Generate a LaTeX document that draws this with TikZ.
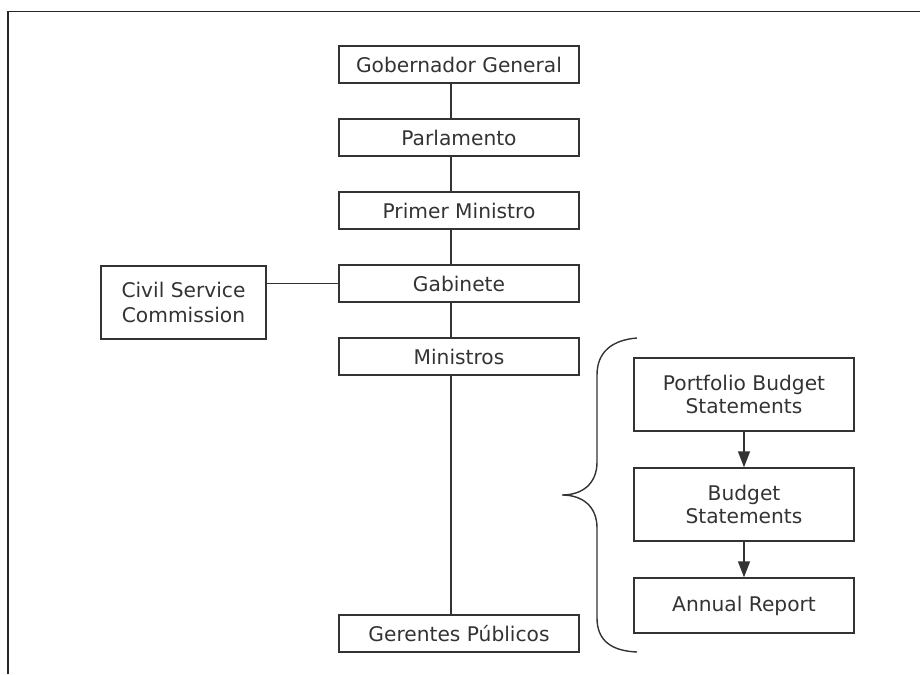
\documentclass[tikz,border=0pt]{standalone}
\usepackage{fontspec}
\setmainfont{DejaVu Sans}
\usetikzlibrary{arrows.meta}
\definecolor{ink}{HTML}{333333}
\tikzset{
  box/.style={draw=ink, line width=0.7pt, text=ink, minimum width=120pt, minimum height=18.5pt, inner sep=0pt, font=\fontsize{10.1}{11.7}\selectfont, align=center},
  tallbox/.style={box, minimum width=110pt, minimum height=36.5pt},
  link/.style={draw=ink, line width=0.7pt},
  arr/.style={link, -{Triangle[length=8pt,width=6pt]}}
}
\begin{document}
\begin{tikzpicture}[x=0.5pt,y=-0.5pt]
\useasboundingbox (0,0) rectangle (920,674);
% frame
\draw[line width=0.6pt, black!85] (8,674) -- (8,11.5) -- (920,11.5);
% main column
\node[box] (gob)  at (459,64.5)  {Gobernador General};
\node[box] (parl) at (459,137.5) {Parlamento};
\node[box] (pm)   at (459,210.5) {Primer Ministro};
\node[box] (gab)  at (459,283.5) {Gabinete};
\node[box] (min)  at (459,356.5) {Ministros};
\node[box] (ger)  at (459,633.5) {Gerentes Públicos};
\node[box, minimum width=82.5pt, minimum height=36.5pt, font=\fontsize{10.1}{12.2}\selectfont] (csc) at (183.5,302.5) {Civil Service\\Commission};
% right column
\node[tallbox] (pbs) at (744,394.5) {Portfolio Budget\\Statements};
\node[tallbox] (bs)  at (744,504.5) {Budget\\Statements};
\node[tallbox, minimum height=27.5pt] (ar) at (744,605.5) {Annual Report};
% connectors
\coordinate (vx) at (451,0);
\draw[link] (gob.south -| vx) -- (parl.north -| vx);
\draw[link] (parl.south -| vx) -- (pm.north -| vx);
\draw[link] (pm.south -| vx) -- (gab.north -| vx);
\draw[link] (gab.south -| vx) -- (min.north -| vx);
\draw[link] (min.south -| vx) -- (ger.north -| vx);
\draw[link] (gab.west -| csc.east) -- (gab.west);
\draw[arr] (pbs.south) -- (bs.north);
\draw[arr] (bs.south) -- (ar.north);
% brace
\draw[link] (637,338) .. controls (612,340) and (597,352) .. (597,375)
  -- (597,462) .. controls (597,484) and (582,495) .. (562,495)
  .. controls (582,495) and (597,506) .. (597,528)
  -- (597,618) .. controls (597,641) and (612,651) .. (637,652);
\end{tikzpicture}
\end{document}
